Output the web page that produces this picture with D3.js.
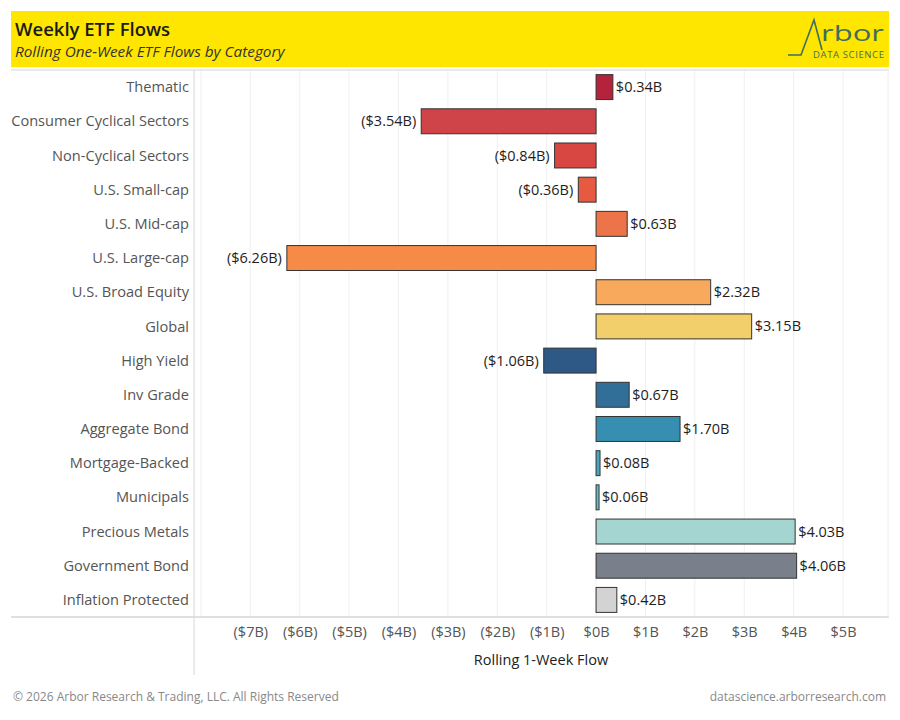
<!DOCTYPE html>
<html>
<head>
<meta charset="utf-8">
<script src="https://cdn.jsdelivr.net/npm/d3@7"></script>
<style>
  body { margin: 0; background: #fff; }
  text { font-family: "Open Sans", "Noto Sans", sans-serif; }
</style>
</head>
<body>
<div id="chart"></div>
<script>
// chart data
var categories = ["Thematic", "Consumer Cyclical Sectors", "Non-Cyclical Sectors", "U.S. Small-cap",
  "U.S. Mid-cap", "U.S. Large-cap", "U.S. Broad Equity", "Global", "High Yield", "Inv Grade",
  "Aggregate Bond", "Mortgage-Backed", "Municipals", "Precious Metals", "Government Bond",
  "Inflation Protected"];
var flows = [0.34, -3.54, -0.84, -0.36, 0.63, -6.26, 2.32, 3.15, -1.06, 0.67, 1.70, 0.08, 0.06, 4.03, 4.06, 0.42];
var barColors = ["#b5223b", "#cf4448", "#d84741", "#e55a40", "#ed7349", "#f68b47", "#f9a95b", "#f2cf6a",
  "#2e5885", "#316f99", "#368fb0", "#46a7bf", "#66bccb", "#a4d5d1", "#797f8b", "#d3d3d3"];
var tickValues = [-7, -6, -5, -4, -3, -2, -1, 0, 1, 2, 3, 4, 5];

var svgWidth = 900;
var svgHeight = 720;

// plot area
var plot = { left: 194, right: 888, top: 70, bottom: 617 };

var svg = d3.select("#chart")
  .append("svg")
  .attr("width", svgWidth)
  .attr("height", svgHeight);

function fmt(v) {
  var s = "$" + Math.abs(v).toFixed(2) + "B";
  return v < 0 ? "(" + s + ")" : s;
}
function fmtTick(v) {
  var s = "$" + Math.abs(v) + "B";
  return v < 0 ? "(" + s + ")" : s;
}

// header banner
svg.append("rect")
  .attr("x", 11).attr("y", 11)
  .attr("width", 878).attr("height", 56)
  .attr("fill", "#ffe600");

svg.append("text")
  .attr("x", 15).attr("y", 36)
  .attr("font-size", "18.5px")
  .attr("font-weight", 600)
  .attr("fill", "#1a1a1a")
  .text("Weekly ETF Flows");

svg.append("text")
  .attr("x", 15).attr("y", 57)
  .attr("font-size", "15.3px")
  .attr("font-style", "italic")
  .attr("fill", "#333")
  .text("Rolling One-Week ETF Flows by Category");

// logo
var logo = svg.append("g");
logo.append("path")
  .attr("d", "M788,55 L801,55 L814,20 L822,50")
  .attr("fill", "none")
  .attr("stroke", "#3f6d5f")
  .attr("stroke-width", 1.6);
logo.append("text")
  .attr("x", 821).attr("y", 41)
  .attr("font-size", "22px")
  .attr("font-weight", 400)
  .attr("fill", "#3f6d5f")
  .attr("textLength", 63)
  .attr("lengthAdjust", "spacingAndGlyphs")
  .text("rbor");
logo.append("text")
  .attr("x", 813).attr("y", 58)
  .attr("font-size", "9.5px")
  .attr("fill", "#3f6d5f")
  .attr("textLength", 71)
  .text("DATA SCIENCE");

// scales
var x = d3.scaleLinear()
  .domain([-8.14, 5.91])
  .range([plot.left, plot.right]);

var y = d3.scaleBand()
  .domain(categories)
  .range([plot.top, plot.bottom])
  .paddingInner(0.27)
  .paddingOuter(0.135);

// gridlines
var gridVals = d3.range(-8, 6);
svg.append("g")
  .selectAll("line")
  .data(gridVals)
  .enter()
  .append("line")
  .attr("x1", d => x(d)).attr("x2", d => x(d))
  .attr("y1", plot.top).attr("y2", plot.bottom)
  .attr("stroke", "#f0f0f0")
  .attr("stroke-width", 1);

// frame lines
svg.append("line")
  .attr("x1", 11).attr("x2", 889)
  .attr("y1", plot.top).attr("y2", plot.top)
  .attr("stroke", "#d6d6d6");
svg.append("line")
  .attr("x1", 11).attr("x2", 889)
  .attr("y1", plot.bottom).attr("y2", plot.bottom)
  .attr("stroke", "#d6d6d6").attr("stroke-width", 1.5);
svg.append("line")
  .attr("x1", plot.left).attr("x2", plot.left)
  .attr("y1", plot.top).attr("y2", 675)
  .attr("stroke", "#d6d6d6");
svg.append("line")
  .attr("x1", plot.right).attr("x2", plot.right)
  .attr("y1", plot.top).attr("y2", plot.bottom)
  .attr("stroke", "#eeeeee");

// category labels
svg.append("g")
  .selectAll("text")
  .data(categories)
  .enter()
  .append("text")
  .attr("x", 189)
  .attr("y", d => y(d) + y.bandwidth() / 2)
  .attr("dy", "0.35em")
  .attr("text-anchor", "end")
  .attr("font-size", "14.6px")
  .attr("fill", "#555")
  .text(d => d);

// bars
svg.append("g")
  .selectAll("rect")
  .data(flows)
  .enter()
  .append("rect")
  .attr("x", d => x(Math.min(0, d)))
  .attr("y", (d, i) => y(categories[i]))
  .attr("width", d => Math.abs(x(d) - x(0)))
  .attr("height", y.bandwidth())
  .attr("fill", (d, i) => barColors[i])
  .attr("stroke", "#333")
  .attr("stroke-width", 1);

// value labels
svg.append("g")
  .selectAll("text")
  .data(flows)
  .enter()
  .append("text")
  .attr("x", d => d < 0 ? x(d) - 5 : x(d) + 3)
  .attr("y", (d, i) => y(categories[i]) + y.bandwidth() / 2)
  .attr("dy", "0.35em")
  .attr("text-anchor", d => d < 0 ? "end" : "start")
  .attr("font-size", "14.5px")
  .attr("fill", "#1e1e1e")
  .text(d => fmt(d));

// x axis
var bottomAxis = d3.axisBottom(x)
  .tickValues(tickValues)
  .tickFormat(fmtTick)
  .tickSize(0)
  .tickPadding(10);

var xAxis = svg.append("g")
  .attr("transform", `translate(0, ${plot.bottom})`)
  .call(bottomAxis);
xAxis.select(".domain").remove();
xAxis.selectAll("text")
  .attr("font-size", "14.5px")
  .attr("fill", "#555")
  .style("font-family", "\"Open Sans\", sans-serif");

svg.append("text")
  .attr("x", (plot.left + plot.right) / 2).attr("y", 665)
  .attr("text-anchor", "middle")
  .attr("font-size", "14.5px")
  .attr("fill", "#222")
  .text("Rolling 1-Week Flow");

// footer
svg.append("text")
  .attr("x", 13).attr("y", 701)
  .attr("font-size", "12px")
  .attr("fill", "#888")
  .text("\u00a9 2026 Arbor Research & Trading, LLC. All Rights Reserved");

svg.append("text")
  .attr("x", 886).attr("y", 701)
  .attr("text-anchor", "end")
  .attr("font-size", "12px")
  .attr("fill", "#888")
  .text("datascience.arborresearch.com");
</script>
</body>
</html>
